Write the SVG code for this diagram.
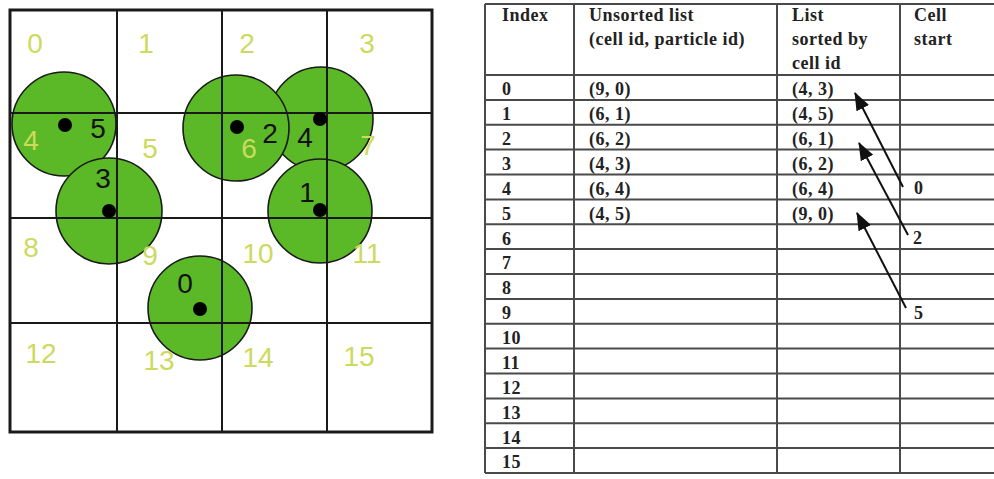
<svg xmlns="http://www.w3.org/2000/svg" width="994" height="479" viewBox="0 0 994 479">
<style>
.circ{fill:#5bb826;stroke:#1a1a1a;stroke-width:1.6}
.dot{fill:#000}
.gl{stroke:#1a1a1a;stroke-width:2;fill:none}
.go{stroke:#1a1a1a;stroke-width:3;fill:none}
.cl{font-family:"Liberation Sans",Arial,sans-serif;font-size:28px;fill:#ccda5e;text-anchor:middle}
.pl{font-family:"Liberation Sans",Arial,sans-serif;font-size:28px;fill:#111;text-anchor:middle}
.tl{stroke:#4a4a4a;stroke-width:2;fill:none}
.tt{font-family:"Liberation Serif","Times New Roman",serif;font-size:18px;font-weight:bold;fill:#222;letter-spacing:0.5px}
.ar{stroke:#111;stroke-width:2;fill:none;marker-end:url(#ah)}
</style>
<defs>
<marker id="ah" markerUnits="userSpaceOnUse" markerWidth="20" markerHeight="16" refX="17" refY="7" orient="auto">
<path d="M0,0 L18,7 L0,14 z" fill="#111"/>
</marker>
</defs>
<rect width="994" height="479" fill="#fff"/>

<!-- Particles -->
<g id="particle-5"><circle class="circ" cx="64" cy="124" r="52"/></g>
<g id="particle-3"><circle class="circ" cx="109" cy="211" r="53"/></g>
<g id="particle-4"><circle class="circ" cx="321" cy="119" r="52"/></g>
<g id="particle-2"><circle class="circ" cx="236" cy="128" r="53"/></g>
<g id="particle-1"><circle class="circ" cx="320" cy="211" r="52"/></g>
<g id="particle-0"><circle class="circ" cx="200" cy="308" r="52"/></g>

<!-- Grid -->
<g id="grid">
<line class="gl" x1="117" y1="10" x2="117" y2="432"/>
<line class="gl" x1="222" y1="10" x2="222" y2="432"/>
<line class="gl" x1="327" y1="10" x2="327" y2="432"/>
<line class="gl" x1="10" y1="113" x2="432" y2="113"/>
<line class="gl" x1="10" y1="218" x2="432" y2="218"/>
<line class="gl" x1="10" y1="323" x2="432" y2="323"/>
<rect class="go" x="10" y="10" width="422" height="422"/>
</g>

<!-- Cell labels -->
<g id="cell-labels">
<text class="cl" x="35" y="53">0</text>
<text class="cl" x="146" y="53">1</text>
<text class="cl" x="247" y="53">2</text>
<text class="cl" x="367" y="53">3</text>
<text class="cl" x="31" y="150">4</text>
<text class="cl" x="150" y="158">5</text>
<text class="cl" x="249" y="158">6</text>
<text class="cl" x="368" y="155">7</text>
<text class="cl" x="31" y="257">8</text>
<text class="cl" x="150" y="265">9</text>
<text class="cl" x="258" y="263">10</text>
<text class="cl" x="367" y="263">11</text>
<text class="cl" x="41" y="363">12</text>
<text class="cl" x="159" y="370">13</text>
<text class="cl" x="258" y="367">14</text>
<text class="cl" x="359" y="366">15</text>
</g>

<!-- Particle dots and labels -->
<g id="particle-marks">
<circle class="dot" cx="65" cy="125" r="7"/>
<circle class="dot" cx="109" cy="211" r="7"/>
<circle class="dot" cx="237" cy="127" r="7"/>
<circle class="dot" cx="320" cy="119" r="7"/>
<circle class="dot" cx="320" cy="210" r="7"/>
<circle class="dot" cx="200" cy="309" r="7"/>
<text class="pl" x="98" y="138">5</text>
<text class="pl" x="103" y="188">3</text>
<text class="pl" x="270" y="143">2</text>
<text class="pl" x="305" y="147">4</text>
<text class="pl" x="307" y="202">1</text>
<text class="pl" x="185" y="293">0</text>
</g>

<!-- Table -->
<g id="table-lines">
<line class="tl" x1="485" y1="4" x2="994" y2="4"/>
<line class="tl" x1="485" y1="75" x2="994" y2="75"/>
<line class="tl" x1="485" y1="99.9" x2="994" y2="99.9"/>
<line class="tl" x1="485" y1="124.8" x2="994" y2="124.8"/>
<line class="tl" x1="485" y1="149.6" x2="994" y2="149.6"/>
<line class="tl" x1="485" y1="174.5" x2="994" y2="174.5"/>
<line class="tl" x1="485" y1="199.4" x2="994" y2="199.4"/>
<line class="tl" x1="485" y1="224.3" x2="994" y2="224.3"/>
<line class="tl" x1="485" y1="249.1" x2="994" y2="249.1"/>
<line class="tl" x1="485" y1="274" x2="994" y2="274"/>
<line class="tl" x1="485" y1="298.9" x2="994" y2="298.9"/>
<line class="tl" x1="485" y1="323.8" x2="994" y2="323.8"/>
<line class="tl" x1="485" y1="348.6" x2="994" y2="348.6"/>
<line class="tl" x1="485" y1="373.5" x2="994" y2="373.5"/>
<line class="tl" x1="485" y1="398.4" x2="994" y2="398.4"/>
<line class="tl" x1="485" y1="423.3" x2="994" y2="423.3"/>
<line class="tl" x1="485" y1="448.1" x2="994" y2="448.1"/>
<line class="tl" x1="485" y1="473" x2="994" y2="473"/>
<line class="tl" x1="485" y1="4" x2="485" y2="473"/>
<line class="tl" x1="574" y1="4" x2="574" y2="473"/>
<line class="tl" x1="777" y1="4" x2="777" y2="473"/>
<line class="tl" x1="900" y1="4" x2="900" y2="473"/>
</g>

<g id="table-header" class="tt">
<text x="502" y="21">Index</text>
<text x="589" y="21">Unsorted list</text>
<text x="589" y="45">(cell id, particle id)</text>
<text x="792" y="21">List</text>
<text x="792" y="45">sorted by</text>
<text x="792" y="69">cell id</text>
<text x="914" y="21">Cell</text>
<text x="914" y="45">start</text>
</g>

<g id="table-index" class="tt">
<text x="502" y="95">0</text>
<text x="502" y="120">1</text>
<text x="502" y="145">2</text>
<text x="502" y="170">3</text>
<text x="502" y="195">4</text>
<text x="502" y="220">5</text>
<text x="502" y="245">6</text>
<text x="502" y="269">7</text>
<text x="502" y="294">8</text>
<text x="502" y="319">9</text>
<text x="502" y="344">10</text>
<text x="502" y="369">11</text>
<text x="502" y="394">12</text>
<text x="502" y="419">13</text>
<text x="502" y="444">14</text>
<text x="502" y="468">15</text>
</g>

<g id="table-unsorted" class="tt">
<text x="589" y="95">(9, 0)</text>
<text x="589" y="120">(6, 1)</text>
<text x="589" y="145">(6, 2)</text>
<text x="589" y="170">(4, 3)</text>
<text x="589" y="195">(6, 4)</text>
<text x="589" y="220">(4, 5)</text>
</g>

<g id="table-sorted" class="tt">
<text x="792" y="95">(4, 3)</text>
<text x="792" y="120">(4, 5)</text>
<text x="792" y="145">(6, 1)</text>
<text x="792" y="170">(6, 2)</text>
<text x="792" y="195">(6, 4)</text>
<text x="792" y="220">(9, 0)</text>
</g>

<g id="table-cellstart" class="tt">
<text x="914" y="194">0</text>
<text x="913" y="244">2</text>
<text x="914" y="319">5</text>
</g>

<g id="connectors">
<line class="ar" x1="903" y1="187" x2="855" y2="93"/>
<line class="ar" x1="908" y1="235" x2="859" y2="143"/>
<line class="ar" x1="906" y1="308" x2="857" y2="213"/>
</g>
</svg>
